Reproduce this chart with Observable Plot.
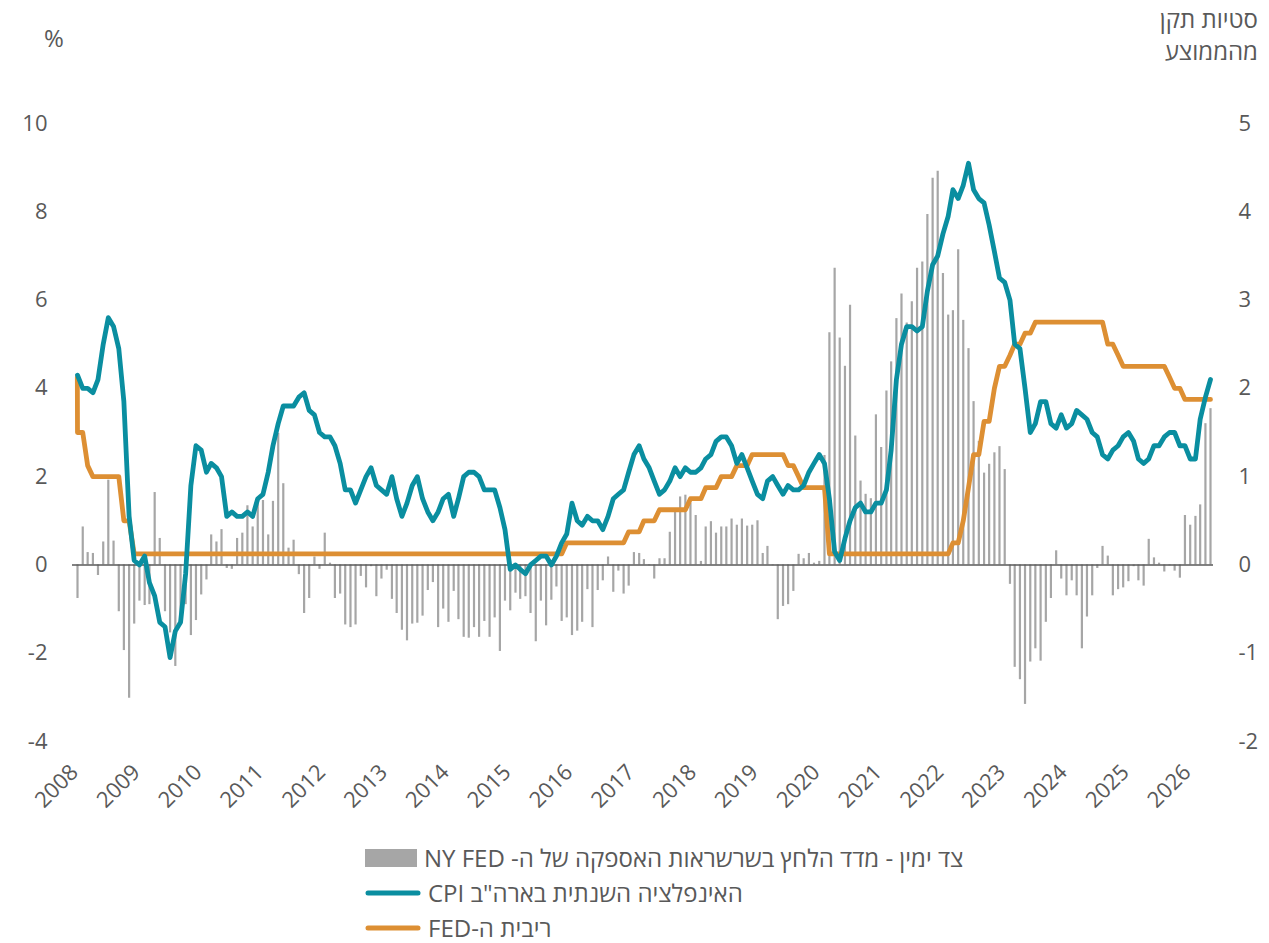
<!DOCTYPE html>
<html><head><meta charset="utf-8">
<script src="https://cdn.jsdelivr.net/npm/d3@7"></script>
<script src="https://cdn.jsdelivr.net/npm/@observablehq/plot@0.6"></script>
<style>
body{margin:0;background:#fff;font-family:"Open Sans","Liberation Sans","DejaVu Sans",sans-serif;color:#595959;}
#wrap{position:relative;width:1269px;height:943px;overflow:hidden;}
.ttl{position:absolute;font-size:24px;line-height:32px;color:#595959;z-index:2;}
#chart{position:absolute;left:0;top:0;z-index:1;}
#legend{position:absolute;left:365px;top:840px;z-index:2;}
.item{display:flex;align-items:center;height:35px;font-size:24px;color:#595959;}
.sw{flex:none;margin-right:7px;}
</style></head><body>
<div id="wrap">
<div id="chart"></div>
<div class="ttl" style="left:44px;top:22px">%</div>
<div class="ttl" dir="rtl" style="right:11px;top:3px;text-align:right">סטיות תקן<br>מהממוצע</div>
<div id="legend"></div>
</div>
<script>
// Monthly data, Jan 2008 .. May 2026
const cpi2008_2016 = [
 4.3,4.0,4.0,3.9,4.2,5.0,5.6,5.4,4.9,3.7,1.1,0.1,
 0.0,0.2,-0.4,-0.7,-1.3,-1.4,-2.1,-1.5,-1.3,-0.2,1.8,2.7,
 2.6,2.1,2.3,2.2,2.0,1.1,1.2,1.1,1.1,1.2,1.1,1.5,
 1.6,2.1,2.7,3.2,3.6,3.6,3.6,3.8,3.9,3.5,3.4,3.0,
 2.9,2.9,2.7,2.3,1.7,1.7,1.4,1.7,2.0,2.2,1.8,1.7,
 1.6,2.0,1.5,1.1,1.4,1.8,2.0,1.5,1.2,1.0,1.2,1.5,
 1.6,1.1,1.5,2.0,2.1,2.1,2.0,1.7,1.7,1.7,1.3,0.8,
 -0.1,0.0,-0.1,-0.2,0.0,0.1,0.2,0.2,0.0,0.2,0.5,0.7,
 1.4,1.0,0.9,1.1,1.0,1.0,0.8,1.1,1.5,1.6,1.7,2.1
];
const cpi2017_2026 = [
 2.5,2.7,2.4,2.2,1.9,1.6,1.7,1.9,2.2,2.0,2.2,2.1,
 2.1,2.2,2.4,2.5,2.8,2.9,2.9,2.7,2.3,2.5,2.2,1.9,
 1.6,1.5,1.9,2.0,1.8,1.6,1.8,1.7,1.7,1.8,2.1,2.3,
 2.5,2.3,1.5,0.3,0.1,0.6,1.0,1.3,1.4,1.2,1.2,1.4,
 1.4,1.7,2.6,4.2,5.0,5.4,5.4,5.3,5.4,6.2,6.8,7.0,
 7.5,7.9,8.5,8.3,8.6,9.1,8.5,8.3,8.2,7.7,7.1,6.5,
 6.4,6.0,5.0,4.9,4.0,3.0,3.2,3.7,3.7,3.2,3.1,3.4,
 3.1,3.2,3.5,3.4,3.3,3.0,2.9,2.5,2.4,2.6,2.7,2.9,
 3.0,2.8,2.4,2.3,2.4,2.7,2.7,2.9,3.0,3.0,2.7,2.7,
 2.4,2.4,3.3,3.8,4.2
];
// Fed funds target (upper bound, end of month); first value = end of Dec 2007
const fedEndDec2007 = 4.25;
const fed2008_2016 = [
 3.0,3.0,2.25,2.0,2.0,2.0,2.0,2.0,2.0,1.0,1.0,0.25,
 0.25,0.25,0.25,0.25,0.25,0.25,0.25,0.25,0.25,0.25,0.25,0.25,
 0.25,0.25,0.25,0.25,0.25,0.25,0.25,0.25,0.25,0.25,0.25,0.25,
 0.25,0.25,0.25,0.25,0.25,0.25,0.25,0.25,0.25,0.25,0.25,0.25,
 0.25,0.25,0.25,0.25,0.25,0.25,0.25,0.25,0.25,0.25,0.25,0.25,
 0.25,0.25,0.25,0.25,0.25,0.25,0.25,0.25,0.25,0.25,0.25,0.25,
 0.25,0.25,0.25,0.25,0.25,0.25,0.25,0.25,0.25,0.25,0.25,0.25,
 0.25,0.25,0.25,0.25,0.25,0.25,0.25,0.25,0.25,0.25,0.25,0.5,
 0.5,0.5,0.5,0.5,0.5,0.5,0.5,0.5,0.5,0.5,0.5,0.75
];
const fed2017_2026 = [
 0.75,0.75,1.0,1.0,1.0,1.25,1.25,1.25,1.25,1.25,1.25,1.5,
 1.5,1.5,1.75,1.75,1.75,2.0,2.0,2.0,2.25,2.25,2.25,2.5,
 2.5,2.5,2.5,2.5,2.5,2.5,2.25,2.25,2.0,1.75,1.75,1.75,
 1.75,1.75,0.25,0.25,0.25,0.25,0.25,0.25,0.25,0.25,0.25,0.25,
 0.25,0.25,0.25,0.25,0.25,0.25,0.25,0.25,0.25,0.25,0.25,0.25,
 0.25,0.25,0.5,0.5,1.0,1.75,2.5,2.5,3.25,3.25,4.0,4.5,
 4.5,4.75,5.0,5.0,5.25,5.25,5.5,5.5,5.5,5.5,5.5,5.5,
 5.5,5.5,5.5,5.5,5.5,5.5,5.5,5.5,5.0,5.0,4.75,4.5,
 4.5,4.5,4.5,4.5,4.5,4.5,4.5,4.5,4.25,4.0,4.0,3.75,
 3.75,3.75,3.75,3.75,3.75
];
// NY Fed Global Supply Chain Pressure Index (std. dev., right axis)
const gscpi2008_2016 = [
 -0.38,0.43,0.14,0.13,-0.12,0.26,0.96,0.27,-0.53,-0.97,-1.51,-0.67,
 -0.41,-0.46,-0.45,0.82,0.30,-0.53,-0.77,-1.15,-0.65,-0.45,-0.80,-0.63,
 -0.34,-0.17,0.34,0.26,0.40,-0.04,-0.05,0.30,0.36,0.67,0.43,0.76,
 0.73,0.34,0.72,1.49,0.92,0.19,0.28,-0.11,-0.55,-0.38,0.09,-0.05,
 0.36,0.02,-0.38,-0.33,-0.68,-0.71,-0.68,-0.13,-0.26,-0.02,-0.36,-0.16,
 -0.06,-0.39,-0.55,-0.74,-0.86,-0.67,-0.66,-0.58,-0.29,-0.20,-0.71,-0.50,
 -0.65,-0.30,-0.62,-0.82,-0.83,-0.71,-0.82,-0.64,-0.82,-0.60,-0.98,-0.41,
 -0.52,-0.32,-0.39,-0.36,-0.55,-0.87,-0.41,-0.69,-0.40,-0.25,-0.64,-0.60,
 -0.80,-0.75,-0.65,-0.28,-0.71,-0.29,-0.18,0.09,-0.31,-0.07,-0.33,-0.24
];
const gscpi2017_2026 = [
 0.14,0.13,0.06,-0.01,-0.16,0.07,0.07,0.37,0.63,0.77,0.79,0.70,
 0.56,0.04,0.43,0.49,0.36,0.43,0.43,0.52,0.45,0.52,0.44,0.45,
 0.50,0.13,0.21,-0.01,-0.62,-0.47,-0.45,-0.30,0.12,0.07,0.13,0.02,
 0.04,1.24,2.63,3.36,2.57,2.25,2.94,1.46,0.95,0.80,0.75,1.70,
 1.33,1.97,2.30,2.79,3.07,2.74,2.98,3.36,3.43,3.97,4.38,4.46,
 3.30,2.83,2.88,3.57,2.77,2.45,1.85,1.40,1.04,1.14,1.27,1.34,
 1.08,-0.22,-1.16,-1.30,-1.58,-1.10,-0.95,-1.09,-0.65,-0.38,0.16,-0.16,
 -0.35,-0.18,-0.35,-0.95,-0.59,-0.35,-0.04,0.21,0.10,-0.35,-0.28,-0.26,
 -0.19,-0.02,-0.18,-0.24,0.29,0.08,0.02,-0.08,-0.01,-0.07,-0.15,0.56,
 0.45,0.55,0.68,1.60,1.77
];
const yearLabels = d3.range(2008, 2027);
const leftTicks = [-4,-2,0,2,4,6,8,10];
const legendLabels = [
 "צד ימין - מדד הלחץ בשרשראות האספקה של ה- NY FED",
 "האינפלציה השנתית בארה\"ב CPI",
 "ריבית ה-FED"
];
const colors = {bar:"#a6a6a6", cpi:"#0a8ea0", fed:"#dd8f33", axis:"#595959"};

const cpi = cpi2008_2016.concat(cpi2017_2026);
const fedMonthly = fed2008_2016.concat(fed2017_2026);
const gscpi = gscpi2008_2016.concat(gscpi2017_2026);
const data = cpi.map((v, i) => ({date: new Date(Date.UTC(2008, i, 1)), cpi: v, g: gscpi[i]}));
const fedData = [{date: new Date(Date.UTC(2007, 11, 31)), fed: fedEndDec2007}]
  .concat(fedMonthly.map((v, i) => ({date: new Date(Date.UTC(2008, i, 1)), fed: v})));
const yearDates = yearLabels.map(y => new Date(Date.UTC(y, 0, 1)));
const font = '"Open Sans","Liberation Sans","DejaVu Sans",sans-serif';

const chart = Plot.plot({
  width: 1269, height: 821,
  marginLeft: 77, marginRight: 59, marginTop: 123, marginBottom: 80,
  x: {type: "utc", domain: [data[0].date, data[data.length-1].date]},
  y: {domain: [-4, 10]},
  style: {fontFamily: font, color: colors.axis, background: "transparent", overflow: "visible"},
  marks: [
    Plot.ruleX(data, {x: "date", y1: 0, y2: d => d.g * 2, stroke: colors.bar, strokeWidth: 2.2}),
    Plot.ruleY([0], {stroke: colors.axis, strokeWidth: 1.5, insetLeft: -5, insetRight: -3}),
    Plot.lineY(fedData, {x: "date", y: "fed", stroke: colors.fed, strokeWidth: 4.8, strokeLinejoin: "round", strokeLinecap: "round", clip: false}),
    Plot.lineY(data, {x: "date", y: "cpi", stroke: colors.cpi, strokeWidth: 4.8, strokeLinejoin: "round", strokeLinecap: "round"}),
    Plot.axisY(leftTicks, {anchor: "left", tickSize: 0, tickPadding: 30, tickFormat: d => String(d), fontSize: 22, label: null}),
    Plot.axisY(leftTicks, {anchor: "right", tickSize: 0, tickPadding: 28, tickFormat: d => String(d / 2), fontSize: 22, label: null}),
    Plot.axisX(yearDates, {tickSize: 0, tickPadding: 27, tickRotate: -45, tickFormat: d => String(d.getUTCFullYear()), fontSize: 22, dx: -3, label: null})
  ]
});
document.getElementById("chart").appendChild(chart);

const legend = document.getElementById("legend");
const swatches = [
  `<svg class="sw" width="52" height="18"><rect x="0" y="0" width="52" height="18" fill="${colors.bar}"/></svg>`,
  `<svg class="sw" width="56" height="8"><line x1="3" y1="4" x2="53" y2="4" stroke="${colors.cpi}" stroke-width="5" stroke-linecap="round"/></svg>`,
  `<svg class="sw" width="56" height="8"><line x1="3" y1="4" x2="53" y2="4" stroke="${colors.fed}" stroke-width="5" stroke-linecap="round"/></svg>`
];
legendLabels.forEach((t, i) => {
  const row = document.createElement("div");
  row.className = "item";
  row.innerHTML = swatches[i] + `<span dir="rtl">${t}</span>`;
  legend.appendChild(row);
});
</script>
</body></html>
